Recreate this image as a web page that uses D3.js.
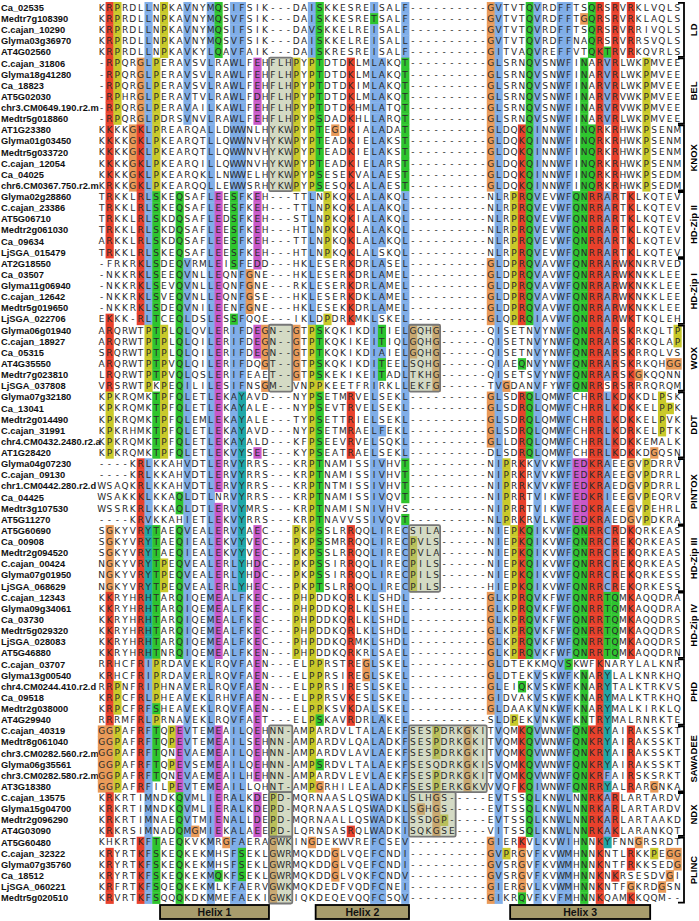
<!DOCTYPE html>
<html><head><meta charset="utf-8">
<script src="https://cdn.jsdelivr.net/npm/d3@7/dist/d3.min.js"></script>
<style>body{margin:0;background:#fff}svg{display:block}</style>
</head><body>
<svg id="chart" width="699" height="921"></svg>
<script>
// ---------------- DATA ----------------
const names = [
"Ca_02535","Medtr7g108390","C.cajan_10290","Glyma03g36970","AT4G02560",
"C.cajan_31806","Glyma18g41280","Ca_18823","AT5G02030","chr3.CM0649.190.r2.m","Medtr5g018860",
"AT1G23380","Glyma01g03450","Medtr5g033720","C.cajan_12054","Ca_04025","chr6.CM0367.750.r2.m",
"Glyma02g28860","C.cajan_23386","AT5G06710","Medtr2g061030","Ca_09634","LjSGA_015479",
"AT2G18550","Ca_03507","Glyma11g06940","C.cajan_12642","Medtr5g019650","LjSGA_022706",
"Glyma06g01940","C.cajan_18927","Ca_05315","AT4G35550","Medtr7g023810","LjSGA_037808",
"Glyma07g32180","Ca_13041","Medtr2g014490","C.cajan_31991","chr4.CM0432.2480.r2.a","AT1G28420",
"Glyma04g07230","C.cajan_09130","chr1.CM0442.280.r2.d","Ca_04425","Medtr3g107530","AT5G11270",
"AT5G60690","Ca_00908","Medtr2g094520","C.cajan_00424","Glyma07g01950","LjSGA_068629",
"C.cajan_12343","Glyma09g34061","Ca_03730","Medtr5g029320","LjSGA_028083","AT5G46880",
"C.cajan_03707","Glyma13g00540","chr4.CM0244.410.r2.d","Ca_09518","Medtr2g038000","AT4G29940",
"C.cajan_40319","Medtr8g061040","chr3.CM0282.560.r2.m","Glyma06g35561","chr3.CM0282.580.r2.m","AT3G18380",
"C.cajan_13575","Glyma15g04700","Medtr2g096290","AT4G03090",
"AT5G60480","C.cajan_32322","Glyma07g35760","Ca_18512","LjSGA_060221","Medtr5g020510"
];
const sequences = [
"KRPRDLLNPKAVNYMQSIFSIK---DAISKKESREISALF----------GVTVTQVRDFFTSQRSRVRKLVQLS",
"KRPRDLLNPKAVNYMQSVFSIK---DAISKKESRETSALF----------GVTVTQVRDFFTGQRSRVRKLAQLS",
"KRPRDLLNPKAVNYMQSIFSIK---DAVSKKELREISALF----------GVTVTQVRDFFTSQRSRVRRIVQLS",
"KRPRDLLNPKAVNYMQSVFSIK---DAISKKELREISALL----------GVTVTQVRDFFNAQRSRVRRSVQLS",
"KRPRDLLNPKAVKYLQAVFAIK---DAISKRESREISALF----------GITVAQVREFFVTQKTRVRKQVRLS",
"-RPQRGLPERAVSVLRAWLFEHFLHPYPTDTDKLMLAKQT----------GLSRNQVSNWFINARVRLWKPMVEE",
"-RPQRGLPERAVSVLRAWLFEHFLHPYPTDTDKLMLAKQT----------GLSRNQVSNWFINARVRLWKPMVEE",
"-RPQRGLPERAVSVLRAWLFEHFLHPYPTDTDKIMLAKQT----------GLSRNQVSNWFINARVRLWKPMVEE",
"-RPHRGLPERAVTVLRAWLFDHFLHPYPTDTDKLMLAKQT----------GLSRNQVSNWFINARVRVWKPMVEE",
"-RPQRGLPERAVAILKAWLFEHFLHPYPTDTDKHMLATQT----------GLSRNQVSNWFINARVRVWKPMVEE",
"-RPQRGLPDRSVNVLRAWLFEHFLHPYPSDADKHLLARQT----------GLSRNQVSNWFINARVRLWKPMVEE",
"KKKKGKLPREARQALLDWWNLHYKWPYPTEGDKIALADAT----------GLDQKQINNWFINQRKRHWKPSENM",
"KKKKGKLPKEARQTLLQWWNVHYKWPYPTEADKIELAKST----------GLDQKQINNWFINQRKRHWKPSENM",
"KKKKGKLPKEARQTLLQWWNVHYKWPYPTEADKIELAKST----------GLDQKQINNWFINQRKRHWKPSENM",
"KKKKGKLPKEARQILLQWWNVHYKWPYPTEADKIELARST----------GLDQKQINNWFINQRKRHWKPSENM",
"KKKKGKLPKEARQKLLNWWELHYKWPYPSESEKVALAEST----------GLDQKQINNWFINQRKRHWKPSEDM",
"KRKKGKLPKEARQQLLEWWSRHYKWPYPSESQKLALAEST----------GLDQKQINNWFINQRKRHWKPSEDM",
"TRKKLRLSKEQSAFLEESFKEH---TTLNPKQKLALAKQL----------NLRPRQVEVWFQNRRARTKLKQTEV",
"TRKKLRLSKEQSAFLEESFKEH---TTLNPKQKLALAKQL----------NLRPRQVEVWFQNRRARTKLKQTEV",
"TRKKLRLSKDQSAFLEDSFKEH---STLNPKQKIALAKQL----------NLRPRQVEVWFQNRRARTKLKQTEV",
"TRKKLRLSKDQSAFLEESFKEH---HTLNPKQKLALAKQL----------NLRPRQVEVWFQNRRARTKLKQTEV",
"ARKKLRLSKDQSAFLEESFKEH---TTLNPKQKLALAKQL----------NLRPRQVEVWFQNRRARTKLKQTEV",
"TRKKLRLSKEQSAFLEESFKEH---HTLNPKQKLALSKQL----------NLRPRQVEVWFQNRRARTKLKQTEV",
"-FRKRKLSDEQVRMLEISFEDD---HKLESERKDRLASEL----------GLDPRQVAVWFQNRRARWKNKRVED",
"-NKKRKLSEEQVNLLEQNFGNE---HKLESERKDRLAMEL----------GLDPRQVAVWFQNRRARWKNKKLEE",
"-NKKRKLSEVQVNLLEQNFGNE---RKLESERKDRLAMEL----------GLDPRQVAVWFQNRRARWKNKKLEE",
"-NKKRKLSVEQVNLLEQNFGSE---HKLESERKDKLAMEL----------GLDPRQVAVWFQNRRARWKNKKLEE",
"-NKKRKLSDEQVNILEENFGNE---HKLESEKKDRLAMEL----------GLDPRQVAVWFQNRRARWKNKKLEE",
"EKKK-RLTCEQLDSLESSFQQE---IKLDPDRKMKLSKEL----------GLQPRQIAVWFQNRRARWKTKQLEH",
"ARQRWTPTPLQLQVLERIFDEGN--GTPSKQKIKDITIELGQHG------QISETNVYNWFQNRRARSKRKQLTP",
"ARQRWTPTPLQLQILERIFDEGN--GTPTKQKIKEITIQLGQHG------QISETNVYNWFQNRRARSKRKQLAP",
"SRQRWTPTPLQLQILERIFDEGN--GTPTKQKIKDIAIELGQHG------QISETNVYNWFQNRRARSKRRQLVS",
"ARQRWTPTPVQLQILERIFDQGT--GTPSKQKIKDITEELSQHG------QIAEQNVYNWFQNRRARSKRKQHGG",
"LRQRWTPTPVQLQSLERIFEAET--GTPSKEKIKEITADLTKHG------QISETSVYNWFQNRRARSKGKQQNN",
"VRSRWTPKPEQILILESIFNSGM--VNPPKEETFRIRKLLEKFG------TVGDANVFYWFQNRRSRSRRRQRQM",
"KPKRQMKTPFQLETLEKAYAVD---NYPSETMRVELSEKL----------GLSDRQLQMWFCHRRLKDKKDLPSK",
"KPKRQMKTPFQLETLEKAYALE---NYPSEVTRVELSEKL----------GLSDRQLQMWFCHRRLKDKKELPPK",
"KPKRQMKTPFQLEMLEKAYALE---TYPSETTRIELSEKL----------GLSDRQLQMWFCHRRLKDKKELPVK",
"KPKRHMKTPFQLETLEKAYAVD---NYPSETMRAELFEKL----------GLSDRQLQMWFCHRRLKDRKELPTK",
"KPKRQMKTPFQLETLEKAYALD---KFPSEEVRVELSQKL----------GLLDRQLQMWFCHRRLKDKKEMALK",
"KPKRQMKTPFQLETLEKVYSEE---KYPSEATRAELSEKL----------DLSDRQLQMWFCHRRLKDKKDGQSN",
"----KRLKKAHVDTLERVYRRS---KRPTNAMISSIVHVT----------NIPRKKVVKWFEDKRAEEGVPDRRV",
"----KRLKKAHVDTLERVYRRS---KRPTNAMISSIVHVT----------NIPRKRVVKWFEDKRAEEGVPDRRL",
"WSAQKRLKKAHVDTLERVYRRS---KRPTNTMISSIVHVT----------NIPRRKVVKWFEDKRAEDGVPDRRL",
"WSAKKKLKKAQLDTLNRVYRRS---KRPTNAMISSIVQVT----------NIPRRTVIKWFEDKRIEEGVPEQRV",
"WSSRKRLKKAQLDTLERVYMRS---KRPTNAMISNIVHVS----------NIPRRTVIKWFEDKRAEEGVPEHRL",
"----KRVKKAHIETLEKVYRRS---KRPTNAVVSSIVQVT----------NLPRKRVLKWFEDKRAEDGVPDKRA",
"SGKYVRYTAEQVEALERVYAEC---PKPSSLRRQQLIRECSILA------NIEPKQIKVWFQNRRCRDKQRKEAS",
"SGKYVRYTAEQIEALEKVYVEC---PKPSSMRRQQLIRECPVLS------NIEPKQIKVWFQNRRCREKQRKEAS",
"SGKYVRYTAEQIEALEKVYVEC---PKPSSLRRQQLIRECPVLA------NIEPKQIKVWFQNRRCREKQRKEAS",
"NGKYVRYTPEQVEALERLYHDC---PKPSSIRRQQLIRECPILS------NIEPKQIKVWFQNRRCREKQRKEAS",
"NGKYVRYTPEQVEALERLYHDC---PKPSSIRRQQLIRECPILS------NIEPKQIKVWFQNRRCREKQRKESS",
"NGKYVRYTPEQVEALERLYHEC---PKPTSLRRQQLIRECPILS------HIEPKQIKVWFQNRRCREKQRKESS",
"KKRYHRHTARQIQEMEALFKEC---PHPDDKQRLKLSHDL----------GLKPRQVKFWFQNRRTQMKAQQDRA",
"KKRYHRHTARQIQEMEALFKEC---PHPDDKQRLKLSHEL----------GLKPRQVKFWFQNRRTQMKAQQDRA",
"KKRYHRHTARQIQEMEALFKEC---PHPDDKQRLKLSHDL----------GLKPRQVKFWFQNRRTQMKAQQDRS",
"KKRYHRHTARQIQEMEALFKEC---PHPDDKQRLKLSHDL----------GLKPRQVKFWFQNRRTQMKAQQDRS",
"KKRYHRHTARQIQEMEALFKEC---PHPDDKQRMKLSHDL----------GLKPRQVKFWFQNRRTQMKAQQDRS",
"KKRYHRHTNRQIQEMEALFKEN---PHPDDKQRKRLSAEL----------GLKPRQVKFWFQNRRTQMKAQQDRN",
"RRHCFRIPRDAVEKLRQVFAEN---ELPPRSTREGLSKEL----------GLDTEKKMQVSKWFKNARYLALKNR",
"KRHCFRIPRDAVERLRQVFAEN---ELPPRSIREGLSKEL----------GLDTEKVSKWFKNARYLALKNRKHQ",
"RRPNFRIPHNAVERLRQVFAEN---ELPPRSIRESLSKEL----------GLEIQKVSKWFKNARYTALKTRKVS",
"KRPCFRLPHEAVEKLRHVFAEN---ELPPRSVKESLSKEL----------GIDVAKVSKWFKNARYMALKTRKHQ",
"KRPCFRFSHEAVEKLRQVFAEN---ELPPKSVKDALSKEL----------GLDAAKVNKWFKNARYMALKIRKLQ",
"RRRMFRLPRNAVEKLRQVFAET---ELPSKAVRDRLAKEL----------SLDPEKVNKWFKNTRYMALRNRKTE",
"GGPAFRFTQPEVTEMEAILQEHNN-AMPARDVLTALAEKFSESPDRKGKITVQMKQVWNWFQNKRYAIRAKSSKT",
"GGPAFRFTQPEVTEMEAILSEHNN-AMPARDVLQALADKFSESPDRKGKITVQMKQVWNWFQNKRYAIRAKSSKT",
"GGPAFRFTQNEVAEMEAILQEHNN-AMPARDVLAVLAEKFSESPDRKGKITVQMKQVWNWFQNKRYAIRAKSSKT",
"GGPAFRFTQPEVSEMEAILQEHNN-AMPSRDVLTALAEKFSESQDRKGKISVQMKQVWNWFQNKRYAIRAKSSKT",
"GGPAFRFTQNEVAEMEAILHEHNN-AMPARDVLEVLAEKFSESPDRKGKITVQMKQVWNWFQNKRFAIRSKSRKT",
"GGPAFRFILPEVTEMEAILLQHNT-AMPGRHILEALADKFSESPERKGKVVVQFKQIWNWFQNRRYALRARGNKA",
"KRKRTIMNDKQVMLIERALKDEPD-MQRNAASLQSWADKLSLHGS-----EVTSSQLKNWLNNRKARLARTARDV",
"KRKRTIMNDKQVMLIERALKDEPD-MQRNAASLQSWADKLSGHGS-----EVTSSQLKNWLNNRKARLARTARDV",
"KRKRTIMNAEQVTMIENALLDEPD-MQRNAALLQSWADKLSSDGP-----EVTSSQLKNWLNNRKARLARTAAKD",
"KRKRSIMNADQMGMIEKALAEEPD-LQRNSASRQLWADKISQKGSE----VITSSQLKNWLNNRKAKLARANKQT",
"KHKRTKFTAEQKVKMRGFAERAGWKINGDEKWVREFCSEV----------GIERKVLKVWIHNNKYFNNGRSRDT",
"KRYRTKFSKEQKEKMHSFSEKLGWRMQKDDGLVQEFCNDI----------GVPRGVFKVWMHNNKNTLRKKPEGG",
"KRYRTKFSKEQKEKMHSFSEKLGWRMQKDDGLVQEFCNDI----------GVSRGVFKVWMHNNKNTFRKKSEDG",
"KRYRTKFSKEQKEKMQKFSEKLGWRMQKDDGLVQKFCNDV----------GVSRGVFKVWMHNNKNKRSESDVGI",
"KRFRTKFSQEQKEKMLKFAERVGWKMQKDEDFVQDFCNEI----------GIERGVLKVWMHNNKNTFGKRDGSN",
"KRVRTKFSQQQKDKMMEFAEKIGWKIQKDEQEVQQFCSQV----------GIKRQVFKVFMHNNKQAMKKQQM--"
];
const groupNames = ["LD","BEL","KNOX","HD-Zip II","HD-Zip I","WOX","DDT","PINTOX","HD-Zip III","HD-Zip IV","PHD","SAWADEE","NDX","PLINC"];
const groupSizes = [5,6,6,6,6,6,6,6,6,6,6,6,4,6];
const helixLabels = ["Helix 1","Helix 2","Helix 3"];
const helixStart = [9,29,54];   // alignment columns (1-based)
const helixEnd   = [22,40,71];
// highlighted regions: [firstCol,lastCol] and [firstRow,lastRow] (1-based)
const boxCols = [[23,25],[23,25],[23,25],[23,25],[23,25],[41,44],[41,44],[41,50],[41,46]];
const boxRows = [[6,17],[30,35],[66,71],[72,75],[76,81],[30,35],[48,53],[66,71],[72,75]];

// ---------------- CLUSTAL X COLOURING ----------------
const COL = {BLUE:"#80aee8",RED:"#e8412c",GREEN:"#2ec42e",MAGENTA:"#c858c8",ORANGE:"#e99a58",YELLOW:"#c9c92a",CYAN:"#20a8a8",PINK:"#f08080"};
function clustal(seqs){
  const n = seqs.length, L = seqs[0].length;
  const out = seqs.map(()=>new Array(L).fill(null));
  for(let c=0;c<L;c++){
    const cnt={};
    seqs.forEach(s=>{cnt[s[c]]=(cnt[s[c]]||0)+1;});
    const pct=set=>{let k=0;for(const ch of set)k+=cnt[ch]||0;return k*100/n;};
    const con=new Set();
    const h=pct("WLVIMAFCYHP");
    if(h>60)con.add('%'); if(h>80)con.add('#');
    if(pct("ED")>50)con.add('-'); if(pct("KR")>60)con.add('+');
    if(pct("G")>50)con.add('g'); if(pct("N")>50)con.add('n');
    if(pct("QE")>50)con.add('q'); if(pct("P")>50)con.add('p');
    if(pct("TS")>50)con.add('t');
    for(const ch of "ACDEFGHIKLMNPQRSTVWY") if(pct(ch)>85)con.add(ch);
    const any=str=>[...str].some(x=>con.has(x));
    seqs.forEach((s,r)=>{
      const ch=s[c]; let col=null;
      if(ch==='G')col=COL.ORANGE;
      else if(ch==='P')col=COL.YELLOW;
      else if(ch==='T'){if(any("tST%#"))col=COL.GREEN;}
      else if(ch==='S'){if(any("tST#"))col=COL.GREEN;}
      else if(ch==='N'){if(any("nND"))col=COL.GREEN;}
      else if(ch==='Q'){if(any("qQE+KR"))col=COL.GREEN;}
      else if("WLVIMF".includes(ch)){if(any("%#ACFHILMVWYPp"))col=COL.BLUE;}
      else if(ch==='A'){if(any("%#ACFHILMVWYPpTSG"))col=COL.BLUE;}
      else if(ch==='C'){if(any("%#AFHILMVWYSPp"))col=COL.BLUE;else if(any("C"))col=COL.PINK;}
      else if(ch==='H'||ch==='Y'){if(any("%#ACFHILMVWYPp"))col=COL.CYAN;}
      else if(ch==='E'){if(any("-DEqQ"))col=COL.MAGENTA;}
      else if(ch==='D'){if(any("-DEnN"))col=COL.MAGENTA;}
      else if(ch==='K'||ch==='R'){if(any("+KRQ"))col=COL.RED;}
      out[r][c]=col;
    });
  }
  return out;
}

// ---------------- DRAW ----------------
const svg=d3.select("#chart");
const nCols=sequences[0].length;
const x=d3.scaleBand().domain(d3.range(1,nCols+1)).range([97.8,681.3]);
const y=d3.scaleBand().domain(d3.range(1,sequences.length+1)).range([2,903.5]);
const cw=x.bandwidth(), rh=y.bandwidth();
const colours=clustal(sequences);

const cells=[];
sequences.forEach((s,r)=>{[...s].forEach((ch,c)=>cells.push({r:r+1,c:c+1,ch,col:colours[r][c]}));});

// names
svg.append("g").selectAll("text").data(names).join("text")
  .attr("x",1).attr("y",(d,i)=>y(i+1)+rh/2+3.3)
  .attr("font-family","'Liberation Sans',Arial,sans-serif").attr("font-weight","bold")
  .attr("font-size","9.3px").attr("fill","#111").text(d=>d);

// cell backgrounds
svg.append("g").selectAll("rect").data(cells.filter(d=>d.col)).join("rect")
  .attr("x",d=>x(d.c)).attr("y",d=>y(d.r)).attr("width",cw+0.4).attr("height",rh+0.4)
  .attr("fill",d=>d.col);

// highlight boxes (fill)
const boxes=boxCols.map((bc,i)=>({c0:bc[0],c1:bc[1],r0:boxRows[i][0],r1:boxRows[i][1]}));
svg.append("g").selectAll("rect").data(boxes).join("rect")
  .attr("x",d=>x(d.c0)).attr("y",d=>y(d.r0)).attr("width",d=>x(d.c1)+cw-x(d.c0))
  .attr("height",d=>y(d.r1)+rh-y(d.r0)).attr("fill","#a9b58a").attr("fill-opacity",0.5);

// residues
svg.append("g").selectAll("text").data(cells).join("text")
  .attr("x",d=>x(d.c)+cw/2).attr("y",d=>y(d.r)+rh/2+3.2)
  .attr("text-anchor","middle").attr("font-family","'DejaVu Sans',sans-serif")
  .attr("font-size","9px").attr("fill","#2a2a2a").text(d=>d.ch);

// highlight boxes (border)
svg.append("g").selectAll("rect").data(boxes).join("rect")
  .attr("x",d=>x(d.c0)).attr("y",d=>y(d.r0)).attr("width",d=>x(d.c1)+cw-x(d.c0))
  .attr("height",d=>y(d.r1)+rh-y(d.r0)).attr("fill","none").attr("stroke","#777")
  .attr("stroke-width",1.8).attr("rx",1.5);

// group brackets + labels
let start=1;
const groups=groupNames.map((g,i)=>{const o={name:g,r0:start,r1:start+groupSizes[i]-1};start+=groupSizes[i];return o;});
const gg=svg.append("g");
gg.selectAll("path").data(groups).join("path")
  .attr("d",d=>{const t=y(d.r0)+0.8,b=y(d.r1)+rh-0.8;return `M678,${t}H684V${b}H678`;})
  .attr("fill","none").attr("stroke","#000").attr("stroke-width",1.8);
gg.selectAll("text").data(groups).join("text")
  .attr("transform",d=>`translate(697,${(y(d.r0)+y(d.r1)+rh)/2}) rotate(-90)`)
  .attr("text-anchor","middle").attr("font-family","'Liberation Sans',Arial,sans-serif")
  .attr("font-weight","bold").attr("font-size","9.5px").text(d=>d.name);

// helix boxes
const helices=helixLabels.map((h,i)=>({label:h,c0:helixStart[i],c1:helixEnd[i]}));
const hg=svg.append("g");
hg.selectAll("rect").data(helices).join("rect")
  .attr("x",d=>x(d.c0)).attr("y",905).attr("width",d=>x(d.c1)+cw-x(d.c0)).attr("height",14)
  .attr("fill","#a89c6c").attr("stroke","#000").attr("stroke-width",1.8);
hg.selectAll("text").data(helices).join("text")
  .attr("x",d=>(x(d.c0)+x(d.c1)+cw)/2).attr("y",916)
  .attr("text-anchor","middle").attr("font-family","'Liberation Sans',Arial,sans-serif")
  .attr("font-weight","bold").attr("font-size","10.5px").attr("fill","#111").text(d=>d.label);
</script>
</body></html>
